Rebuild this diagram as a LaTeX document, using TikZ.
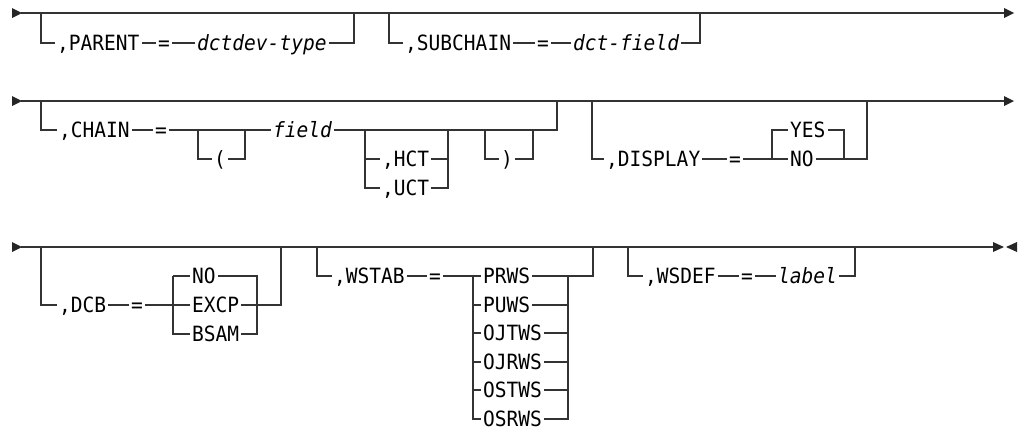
\documentclass[tikz,border=0pt]{standalone}
\usepackage{fontspec}
\newfontfamily\rrfont[FakeStretch=0.93]{DejaVu Sans Mono}
\tikzset{
  rr/.style={line width=1.2pt, draw=black!80},
  kw/.style={anchor=west, inner xsep=2pt, inner ysep=0pt, text height=15.3pt, text depth=0pt,
    font=\rrfont\fontsize{21}{22}\selectfont},
  vr/.style={kw, font=\rrfont\fontsize{21}{22}\selectfont\itshape},
  ar/.style={fill=black!85},
}
\begin{document}
\begin{tikzpicture}[x=1pt,y=-1pt]
\useasboundingbox (0,0) rectangle (1018,432);
% ---------------- Row 1 ----------------
\coordinate (s1) at (21,13);
\coordinate (e1) at (1004,13);
\draw[rr] (s1) -- (e1);
\fill[ar] (12,8) -- (22,13) -- (12,18) -- cycle;
\fill[ar] (1004,8) -- (1014,13) -- (1004,18) -- cycle;
% PARENT
\coordinate (p1l) at (41,13); \coordinate (p1r) at (354,13);
\node[kw] (parent) at (55,43) {,PARENT};
\node[kw] (eqa) at (156,43) {=};
\node[vr] (dctdev) at (195,43) {dctdev-type};
\draw[rr] (p1l) |- (parent.west);
\draw[rr] (parent) -- (eqa);
\draw[rr] (eqa) -- (dctdev);
\draw[rr] (dctdev.east) -| (p1r);
% SUBCHAIN
\coordinate (s2l) at (389,13); \coordinate (s2r) at (700,13);
\node[kw] (subchain) at (403,43) {,SUBCHAIN};
\node[kw] (eqb) at (535,43) {=};
\node[vr] (dctfield) at (571,43) {dct-field};
\draw[rr] (s2l) |- (subchain.west);
\draw[rr] (subchain) -- (eqb);
\draw[rr] (eqb) -- (dctfield);
\draw[rr] (dctfield.east) -| (s2r);
% ---------------- Row 2 ----------------
\coordinate (s3) at (21,101);
\coordinate (e3) at (1004,101);
\draw[rr] (s3) -- (e3);
\fill[ar] (12,96) -- (22,101) -- (12,106) -- cycle;
\fill[ar] (1004,96) -- (1014,101) -- (1004,106) -- cycle;
% CHAIN
\coordinate (cl) at (41,101); \coordinate (cr) at (557,101);
\node[kw] (chain) at (57,130) {,CHAIN};
\node[kw] (eqc) at (153,130) {=};
\coordinate (pl) at (198,130); \coordinate (pr) at (245,130);
\node[kw] (lpar) at (212,159) {(};
\node[vr] (field) at (271,130) {field};
\coordinate (hl) at (365,130); \coordinate (hr) at (448,130);
\node[kw] (hct) at (380,159) {,HCT};
\node[kw] (uct) at (380,188) {,UCT};
\coordinate (ql) at (485,130); \coordinate (qr) at (533,130);
\node[kw] (rpar) at (499,159) {)};
\draw[rr] (cl) |- (chain.west);
\draw[rr] (chain) -- (eqc);
\draw[rr] (eqc.east) -- (pl) -- (pr) -- (field.west);
\draw[rr] (pl) |- (lpar.west);
\draw[rr] (lpar.east) -| (pr);
\draw[rr] (field.east) -- (hl) -- (hr) -- (ql) -- (qr) -| (cr);
\draw[rr] (hl) |- (hct.west);
\draw[rr] (hl |- hct.west) |- (uct.west);
\draw[rr] (hct.east) -| (hr);
\draw[rr] (uct.east) -| (hr |- hct.east);
\draw[rr] (ql) |- (rpar.west);
\draw[rr] (rpar.east) -| (qr);
% DISPLAY
\coordinate (dl) at (592,101); \coordinate (dr) at (867,101);
\node[kw] (display) at (604,159) {,DISPLAY};
\node[kw] (eqd) at (727,159) {=};
\coordinate (yl) at (772,159); \coordinate (yr) at (844,159);
\node[kw] (yes) at (788,130) {YES};
\node[kw] (no) at (788,159) {NO};
\draw[rr] (dl) |- (display.west);
\draw[rr] (display) -- (eqd);
\draw[rr] (eqd.east) -- (yl) -- (no.west);
\draw[rr] (no.east) -- (yr) -| (dr);
\draw[rr] (yl) |- (yes.west);
\draw[rr] (yes.east) -| (yr);
% ---------------- Row 3 ----------------
\coordinate (s5) at (21,247);
\coordinate (e5) at (993,247);
\draw[rr] (s5) -- (e5);
\fill[ar] (12,242) -- (22,247) -- (12,252) -- cycle;
\fill[ar] (993,242) -- (1004,247) -- (993,252) -- cycle;
\fill[ar] (1017,242) -- (1006,247) -- (1017,252) -- cycle;
% DCB
\coordinate (dcl) at (41,247); \coordinate (dcr) at (281,247);
\node[kw] (dcb) at (57,305) {,DCB};
\node[kw] (eqe) at (129,305) {=};
\coordinate (ol) at (173,305); \coordinate (or) at (257,305);
\node[kw] (dno) at (190,276) {NO};
\node[kw] (excp) at (190,305) {EXCP};
\node[kw] (bsam) at (190,334) {BSAM};
\draw[rr] (dcl) |- (dcb.west);
\draw[rr] (dcb) -- (eqe);
\draw[rr] (eqe.east) -- (ol) -- (excp.west);
\draw[rr] (excp.east) -- (or) -| (dcr);
\draw[rr] (ol |- dno.west) -- (dno.west);
\draw[rr] (ol |- dno.west) |- (bsam.west);
\draw[rr] (dno.east) -| (or |- bsam.east) -- (bsam.east);
% WSTAB
\coordinate (wl) at (317,247); \coordinate (wr) at (593,247);
\node[kw] (wstab) at (332,276) {,WSTAB};
\node[kw] (eqf) at (427,276) {=};
\coordinate (wol) at (473,276); \coordinate (wor) at (568,276);
\node[kw] (w1) at (481,276) {PRWS};
\node[kw] (w2) at (481,305) {PUWS};
\node[kw] (w3) at (481,333) {OJTWS};
\node[kw] (w4) at (481,362) {OJRWS};
\node[kw] (w5) at (481,390) {OSTWS};
\node[kw] (w6) at (481,419) {OSRWS};
\draw[rr] (wl) |- (wstab.west);
\draw[rr] (wstab) -- (eqf);
\draw[rr] (eqf.east) -- (wol) -- (w1.west);
\draw[rr] (w1.east) -- (wor) -| (wr);
\draw[rr] (wol) |- (w6.west);
\draw[rr] (wor) |- (w6.east);
\foreach \i in {2,3,4,5} {
  \draw[rr] (wol |- w\i.west) -- (w\i.west);
  \draw[rr] (w\i.east) -- (wor |- w\i.east);
}
% WSDEF
\coordinate (fl) at (628,247); \coordinate (fr) at (855,247);
\node[kw] (wsdef) at (643,276) {,WSDEF};
\node[kw] (eqg) at (739,276) {=};
\node[vr] (label) at (776,276) {label};
\draw[rr] (fl) |- (wsdef.west);
\draw[rr] (wsdef) -- (eqg);
\draw[rr] (eqg) -- (label);
\draw[rr] (label.east) -| (fr);
\end{tikzpicture}
\end{document}
